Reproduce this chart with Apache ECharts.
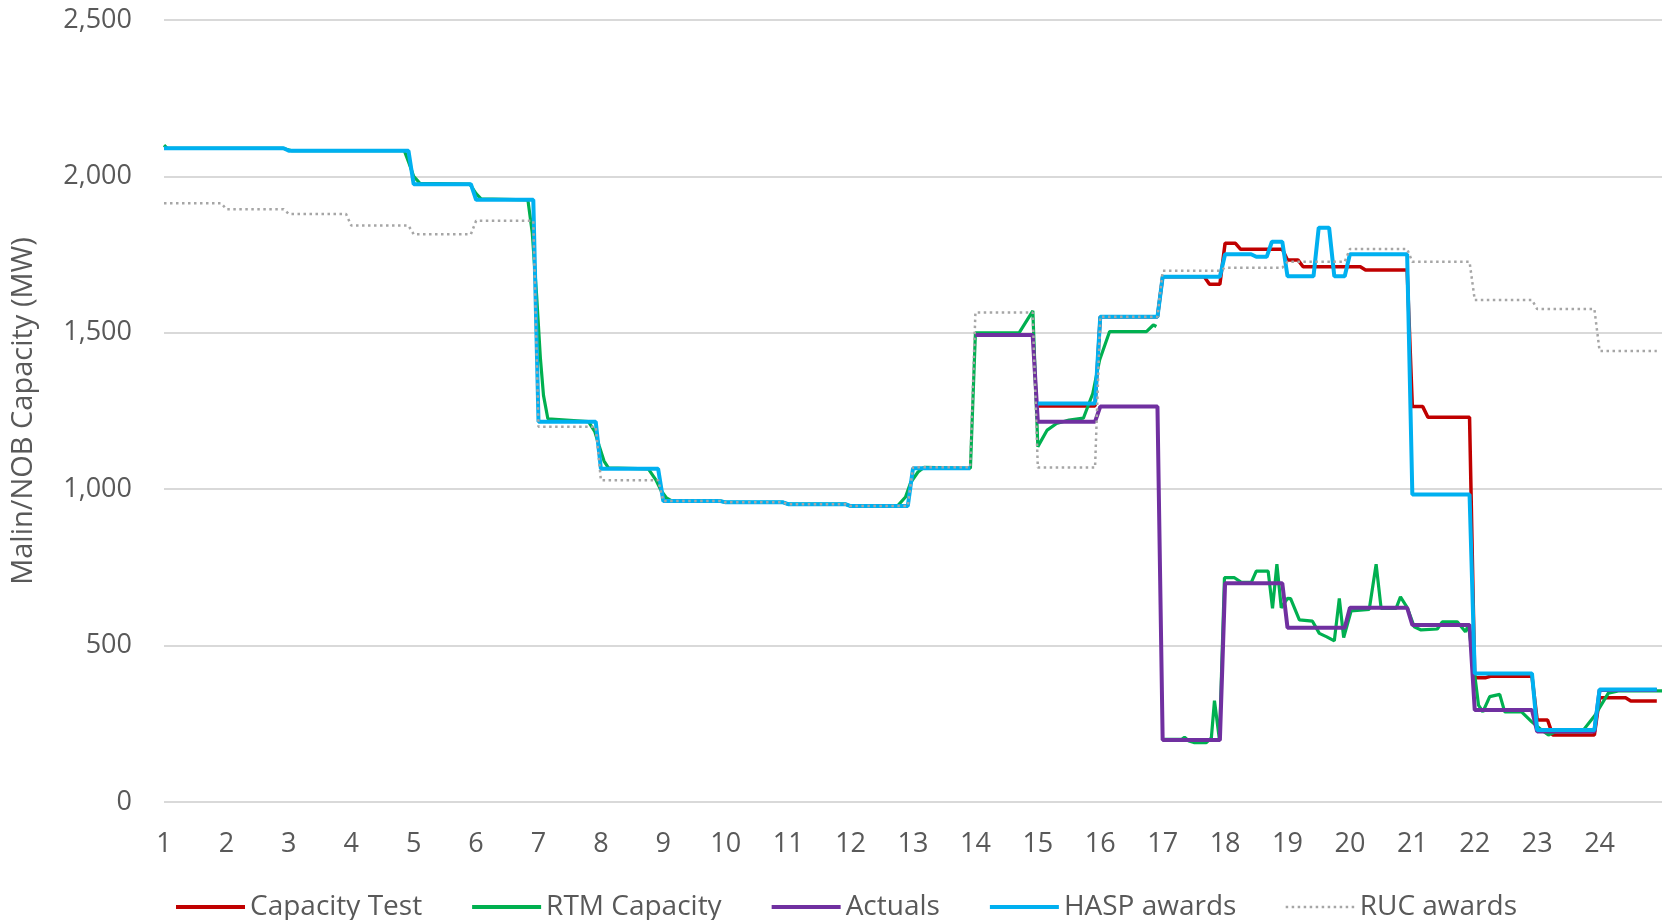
<!DOCTYPE html>
<html>
<head>
<meta charset="utf-8">
<script src="https://cdn.jsdelivr.net/npm/echarts@6/dist/echarts.min.js"></script>
<style>
  html, body { margin: 0; padding: 0; background: #fff; }
  #chart { width: 1665px; height: 920px; }
</style>
</head>
<body>
<div id="chart"></div>
<script>
// RUC awards, one value per hour (hours 1..24)
const rucHourly = [1914, 1895, 1880, 1843, 1815, 1858, 1200, 1029, 962, 958, 952, 946,
  1070, 1565, 1069, 1551, 1698, 1708, 1727, 1768, 1727, 1605, 1576, 1442];

// Actuals, one value per hour, from hour 14
const actualsFirstHour = 14;
const actualsHourly = [1493, 1216, 1264, 198, 699, 557, 621, 566, 294, 225, 358];

// HASP awards, 15-minute values from hour 1 (null = no award)
const haspQuarterly = [
  2090, 2090, 2090, 2090,  2090, 2090, 2090, 2090,  2082, 2082, 2082, 2082,  2082, 2082, 2082, 2082,
  1975, 1975, 1975, 1975,  1925, 1925, 1925, 1925,  1216, 1216, 1216, 1216,  1065, 1065, 1065, 1065,
  962, 962, 962, 962,  958, 958, 958, 958,  952, 952, 952, 952,  946, 946, 946, 946,
  1067, 1067, 1067, 1067,  null, null, null, null,  1274, 1274, 1274, 1274,  1551, 1551, 1551, 1551,
  1679, 1679, 1679, 1679,  1751, 1751, 1743, 1791,  1681, 1681, 1836, 1681,  1751, 1751, 1751, 1751,
  983, 983, 983, 983,  411, 411, 411, 411,  230, 230, 230, 230,  360, 360, 360, 360
];

// Capacity test, 15-minute values from hour 15
const capTestFirstHour = 15;
const capTestQuarterly = [
  1266, 1266, 1266, 1266,  1551, 1551, 1551, 1551,  1679, 1679, 1679, 1655,  1786, 1767, 1767, 1767,
  1733, 1711, 1711, 1711,  1711, 1701, 1701, 1701,  1264, 1230, 1230, 1230,  397, 402, 402, 402,
  262, 214, 214, 214,  333, 333, 323, 323
];

// RTM capacity, read point by point (hour, MW)
const rtmTimes = [1, 1.05, 2.9, 3.05, 4.85, 4.93, 5.0, 5.1, 5.9, 6.0, 6.08, 6.83, 6.9, 6.97, 7.03, 7.08, 7.15,
  7.8, 7.9, 7.97, 8.05, 8.12, 8.76, 8.88, 8.96, 9.05, 9.12, 9.92, 10.0, 10.92, 11.0, 11.92, 12.0,
  12.75, 12.88, 12.96, 13.08, 13.18, 13.92, 14.0, 14.7, 14.92, 15.0, 15.15, 15.3, 15.5, 15.73, 15.88,
  15.99, 16.15, 16.74, 16.85, 16.9, 16.95,
  17.0, 17.3, 17.35, 17.42, 17.5, 17.7, 17.78, 17.83, 17.91, 17.99, 18.15, 18.26, 18.42, 18.5, 18.69,
  18.76, 18.83, 18.9, 19.0, 19.05, 19.19, 19.4, 19.51, 19.63, 19.75, 19.83, 19.9, 20.02, 20.31,
  20.42, 20.5, 20.74, 20.81, 20.92, 21.03, 21.14, 21.4, 21.48, 21.72, 21.85, 21.9, 22.06, 22.13,
  22.24, 22.4, 22.48, 22.75, 22.91, 23.07, 23.18, 23.3, 23.72, 23.93, 24.14, 24.3, 25];
const rtmValues = [2100, 2090, 2090, 2082, 2082, 2040, 2000, 1978, 1975, 1945, 1928, 1925, 1820, 1620, 1420, 1300, 1225,
  1216, 1185, 1140, 1090, 1068, 1065, 1030, 997, 972, 964, 962, 958, 958, 952, 952, 946,
  946, 975, 1020, 1055, 1070, 1067, 1500, 1500, 1570, 1136, 1189, 1210, 1221, 1227, 1306,
  1413, 1504, 1504, 1525, 1520, null,
  200, 200, 207, 195, 190, 190, 205, 324, 198, 717, 717, 702, 702, 738, 738,
  619, 760, 621, 651, 650, 582, 578, 539, 528, 515, 651, 526, 611, 616,
  760, 619, 619, 656, 621, 560, 550, 553, 576, 576, 544, 566, 310, 288,
  337, 344, 288, 288, 257, 230, 214, 225, 225, 278, 348, 355, 355];

const COLORS = {
  capTest: '#c00000',
  rtm: '#00b050',
  actuals: '#7030a0',
  hasp: '#00b0f0',
  ruc: '#a6a6a6',
};
const FONT = "'Open Sans', sans-serif";
const TEXT_COLOR = '#595959';

// flat step of each value, ramping to the next over the last 5 minutes
function stepPoints(values, firstHour, perHour) {
  const len = 1 / perHour;
  const pts = [];
  values.forEach((v, i) => {
    const t = firstHour + i * len;
    if (v == null) {
      pts.push([t, null]);
      return;
    }
    pts.push([t, v], [t + len - 1 / 12, v]);
  });
  return pts;
}

const rtmPoints = rtmTimes.map((t, i) => [t, rtmValues[i]]);

function lineSeries(name, data, color, width, extra) {
  return Object.assign({
    name,
    type: 'line',
    data,
    symbol: 'none',
    showSymbol: false,
    connectNulls: false,
    animation: false,
    lineStyle: { color, width },
    itemStyle: { color },
  }, extra || {});
}

const legendKey = (name, width) => ({ name, lineStyle: { width } });

const chart = echarts.init(document.getElementById('chart'));
chart.setOption({
  animation: false,
  textStyle: { fontFamily: FONT, color: TEXT_COLOR },
  grid: { left: 164, right: 0, top: 20, bottom: 118, containLabel: false },
  legend: {
    left: 169,
    top: 888,
    itemWidth: 69,
    itemHeight: 14,
    itemGap: 48,
    // line-only legend keys, no marker dot
    itemStyle: { opacity: 0 },
    textStyle: { fontFamily: FONT, fontSize: 28, color: TEXT_COLOR },
    data: [
      legendKey('Capacity Test', 4),
      legendKey('RTM Capacity', 4),
      legendKey('Actuals', 4),
      legendKey('HASP awards', 4),
      legendKey('RUC awards', 2.5),
    ],
  },
  xAxis: {
    type: 'value',
    min: 1,
    max: 25,
    interval: 1,
    axisLine: { show: false },
    axisTick: { show: false },
    splitLine: { show: false },
    axisLabel: {
      fontFamily: FONT,
      fontSize: 27,
      color: TEXT_COLOR,
      margin: 29,
      formatter: v => (v >= 25 ? '' : String(v)),
    },
  },
  yAxis: {
    type: 'value',
    min: 0,
    max: 2500,
    interval: 500,
    name: 'Malin/NOB Capacity (MW)',
    nameLocation: 'middle',
    nameGap: 126,
    nameTextStyle: { fontFamily: FONT, fontSize: 29, color: TEXT_COLOR },
    axisLine: { show: false },
    axisTick: { show: false },
    splitLine: { lineStyle: { color: '#d9d9d9', width: 2 } },
    axisLabel: {
      fontFamily: FONT,
      fontSize: 27,
      color: TEXT_COLOR,
      margin: 32,
      formatter: v => v.toLocaleString('en-US'),
    },
  },
  series: [
    lineSeries('Capacity Test', stepPoints(capTestQuarterly, capTestFirstHour, 4), COLORS.capTest, 3.5),
    lineSeries('RTM Capacity', rtmPoints, COLORS.rtm, 3.2),
    lineSeries('Actuals', stepPoints(actualsHourly, actualsFirstHour, 1), COLORS.actuals, 4),
    lineSeries('HASP awards', stepPoints(haspQuarterly, 1, 4), COLORS.hasp, 4),
    lineSeries('RUC awards', stepPoints(rucHourly, 1, 1), COLORS.ruc, 2.5,
      { lineStyle: { color: COLORS.ruc, width: 2.5, type: [2.5, 3.5] } }),
  ],
});
</script>
</body>
</html>
